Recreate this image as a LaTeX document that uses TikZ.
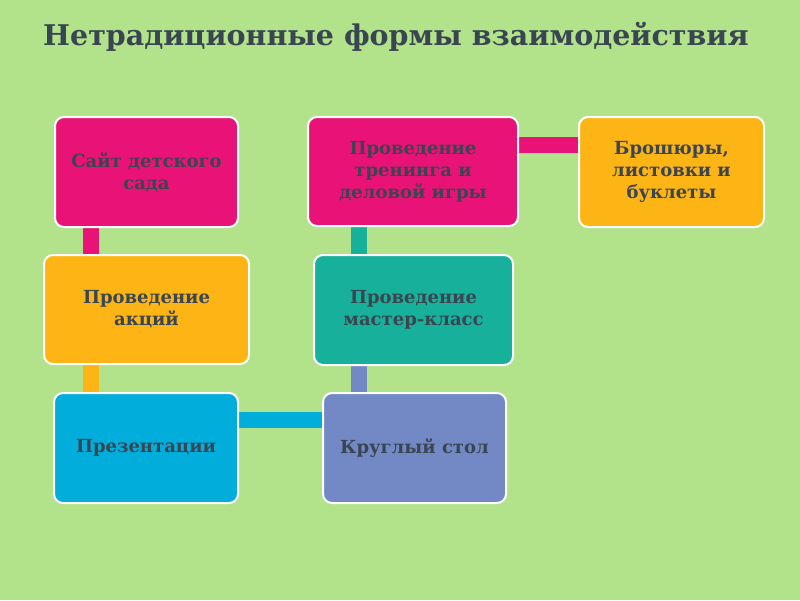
\documentclass[tikz,border=0pt]{standalone}
\usepackage{fontspec}
\setmainfont{DejaVu Serif}
\usetikzlibrary{backgrounds,calc}
\definecolor{bg}{HTML}{B2E38B}
\definecolor{cpink}{HTML}{E91377}
\definecolor{corange}{HTML}{FDB515}
\definecolor{ccyan}{HTML}{00ADDB}
\definecolor{cteal}{HTML}{17B19B}
\definecolor{clav}{HTML}{7289C6}
\definecolor{ctext}{HTML}{3A4552}
\tikzset{
  box/.style={draw=white, line width=2pt, rounded corners=9pt, fill=#1,
    minimum width=183pt, minimum height=110pt, inner sep=2pt, align=center,
    text=ctext, font=\fontsize{18}{22}\selectfont\bfseries},
  conn/.style={draw=#1, line width=16pt, line cap=butt}
}
\begin{document}
\begin{tikzpicture}[x=1pt,y=-1pt]
\useasboundingbox (0,0) rectangle (800,600);
\node[anchor=base west, text=ctext, font=\fontsize{28.5}{32}\selectfont\bfseries, inner sep=0pt] (title) at (43,45) {Нетрадиционные формы взаимодействия};
\node[box=cpink] (s1) at (146.5,172) {Сайт детского\\сада};
\node[box=corange, minimum width=205pt, minimum height=109pt] (s2) at (146.5,309.5) {Проведение\\акций};
\node[box=ccyan, minimum width=184pt] (s3) at (146,448) {Презентации};
\node[box=clav] (s4) at (414.5,448) {Круглый стол};
\node[box=cteal, minimum width=199pt] (s5) at (413.5,310) {Проведение\\мастер-класс};
\node[box=cpink, minimum width=210pt, minimum height=109pt] (s6) at (413,171.5) {Проведение\\тренинга и\\деловой игры};
\node[box=corange, minimum width=185pt] (s7) at (671.5,172) {Брошюры,\\листовки и\\буклеты};
\begin{scope}[on background layer]
\fill[bg] (0,0) rectangle (800,600);
\draw[conn=cpink] ([xshift=36.5]s1.south west) -- ([xshift=36.5]s1.south west |- s2.north);
\draw[conn=corange] ([xshift=36.5]s1.south west |- s2.south) -- ([xshift=36.5]s1.south west |- s3.north);
\draw[conn=ccyan] (s3.east |- 0,420) -- (s4.west |- 0,420);
\draw[conn=clav] ([xshift=36.5]s4.north west) -- ([xshift=36.5]s4.north west |- s5.south);
\draw[conn=cteal] ([xshift=36.5]s4.north west |- s5.north) -- ([xshift=36.5]s4.north west |- s6.south);
\draw[conn=cpink] (s6.east |- 0,145) -- (s7.west |- 0,145);
\end{scope}
\end{tikzpicture}
\end{document}
